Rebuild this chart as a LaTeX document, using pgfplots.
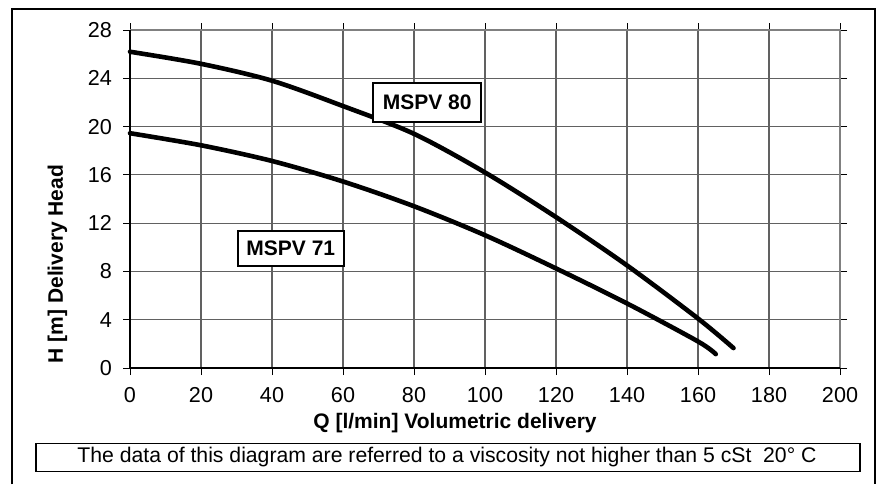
\documentclass[border=0pt]{standalone}
\usepackage{fontspec}
\setmainfont{Liberation Sans}
\usepackage{pgfplots}
\pgfplotsset{compat=1.18}
\begin{document}
\begin{tikzpicture}
\useasboundingbox (0,0) rectangle (438pt,242pt);
% outer frame
\draw[line width=1pt] (5.8pt,0pt) -- (5.8pt,237.3pt) -- (437.3pt,237.3pt) -- (437.3pt,0pt);
\draw[line width=0.5pt] (5.8pt,0pt) -- (5.8pt,237.3pt);
\begin{axis}[
  at={(65pt,58pt)}, anchor=south west,
  scale only axis, width=355pt, height=169pt,
  xmin=0, xmax=200, ymin=0, ymax=28,
  xtick={0,20,...,200}, ytick={0,4,...,28},
  grid=major,
  major grid style={color=black!62, line width=0.55pt},
  axis line style={draw=none},
  tick align=outside,
  major tick length=3.5pt,
  tick style={black, line width=0.5pt},
  /pgf/number format/assume math mode=true,
  tick label style={font=\fontsize{10.8}{12}\selectfont},
  xticklabel style={yshift=-2.8pt},
  yticklabel style={xshift=-2pt},
  clip=false,
]
\draw[color=black!50, line width=1.1pt] (rel axis cs:0,1) -- (rel axis cs:1,1) -- (rel axis cs:1,0);
\draw[black, line width=0.6pt] (rel axis cs:0,1) -- (rel axis cs:0,0) -- (rel axis cs:1,0);
\addplot[black, line width=2.3pt, smooth, line cap=round] coordinates {
 (0,26.2) (20,25.2) (40,23.8) (60,21.7) (80,19.4) (100,16.2) (120,12.5) (140,8.5) (160,4.1) (170,1.65)
};
\addplot[black, line width=2.3pt, smooth, line cap=round] coordinates {
 (0,19.45) (20,18.45) (40,17.15) (60,15.45) (80,13.4) (100,11.0) (120,8.25) (140,5.35) (160,2.2) (165,1.15)
};
\node[draw=black, fill=white, line width=0.8pt, minimum width=54pt, minimum height=19.5pt, inner sep=0pt,
      font=\fontsize{10.5}{12}\selectfont\bfseries] at (axis cs:83.7,22.0) {MSPV 80};
\node[draw=black, fill=white, line width=0.8pt, minimum width=53pt, minimum height=17.5pt, inner sep=0pt,
      font=\fontsize{10.5}{12}\selectfont\bfseries] at (axis cs:45.3,9.9) {MSPV 71};
\end{axis}
\node[font=\fontsize{10.5}{12}\selectfont\bfseries] at (227.5pt,30.3pt) {Q [l/min] Volumetric delivery};
\node[rotate=90, font=\fontsize{10.5}{12}\selectfont\bfseries] at (28.75pt,110pt) {H [m] Delivery Head};
\draw[line width=0.8pt] (18pt,6.2pt) rectangle (430pt,20.2pt);
\node[font=\fontsize{10.6}{12}\selectfont] at (223.5pt,13.3pt) {The data of this diagram are referred to a viscosity not higher than 5 cSt\ \ 20° C};
\end{tikzpicture}
\end{document}
